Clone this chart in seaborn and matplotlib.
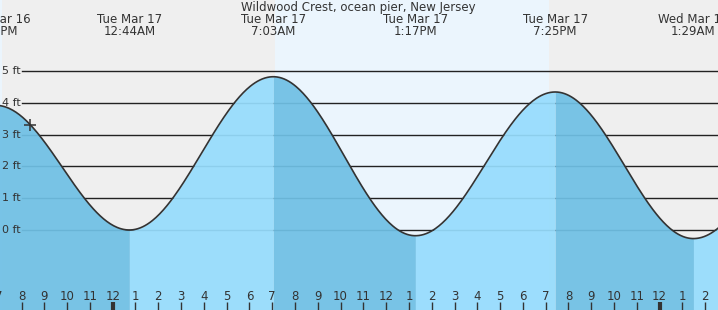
import numpy as np
import pandas as pd
import matplotlib
matplotlib.use('Agg')
import matplotlib.pyplot as plt
import seaborn as sns

# tide extremes, hours from midnight Tue Mar 17
tide_hours = [-5.13, 0.733, 7.05, 13.283, 19.417, 25.483, 31.6]
tide_heights = [3.92, 0.0, 4.82, -0.18, 4.34, -0.27, 4.1]
tide_dates = ['Mon Mar 16', 'Tue Mar 17', 'Tue Mar 17', 'Tue Mar 17', 'Tue Mar 17', 'Wed Mar 18']
tide_times = ['6:52PM', '12:44AM', '7:03AM', '1:17PM', '7:25PM', '1:29AM']

# daylight (hours from midnight Mar 17)
day_spans = [(-6.0, -4.86), (7.12, 19.14)]
now_hour, now_height = -3.63, 3.3

hour_ticks = list(range(-5, 27))
ft_ticks = [0, 1, 2, 3, 4, 5]

title = 'Wildwood Crest, ocean pier, New Jersey'

# curve between extremes (cosine shape, as tide tables do)
xs, ys = [], []
for i in range(len(tide_hours) - 1):
    t = np.linspace(tide_hours[i], tide_hours[i + 1], 120)
    f = (t - tide_hours[i]) / (tide_hours[i + 1] - tide_hours[i])
    h = tide_heights[i] + (tide_heights[i + 1] - tide_heights[i]) * (1 - np.cos(np.pi * f)) / 2
    xs.extend(t)
    ys.extend(h)
curve = pd.DataFrame({'hour': xs, 'height': ys})

x0, x1 = -4.945, 26.56
y0, y1 = -2.516, 7.233
px_x, px_y = 22.79, 31.8

fig = plt.figure(figsize=(7.18, 3.10), dpi=100)
fig.patch.set_facecolor('#efefef')
ax = fig.add_axes([0, 0, 1, 1])
ax.set_xlim(x0, x1)
ax.set_ylim(y0, y1)

for a, b in day_spans:
    ax.axvspan(a, b, color='#ebf5fd', lw=0, zorder=0)

# grid lines (drawn under the fill)
grid_start = x0 + 22 / px_x
for v in ft_ticks:
    ax.plot([grid_start, x1], [v, v], color='#222222', lw=1.0, zorder=1)
    ax.text(x0 + 2 / px_x, v, f'{v} ft', fontsize=8, color='#333333', va='center', ha='left', zorder=5)

# fill segments: falling tide darker
for i in range(len(tide_hours) - 1):
    seg = curve[(curve['hour'] >= tide_hours[i]) & (curve['hour'] <= tide_hours[i + 1])]
    col = '#6fc0e5' if tide_heights[i] > tide_heights[i + 1] else '#96dcfd'
    ax.fill_between(seg['hour'], y0, seg['height'], color=col, alpha=0.93, lw=0, zorder=2)

sns.lineplot(data=curve, x='hour', y='height', ax=ax, color='#333333', lw=1.2, zorder=3, sort=False)
ax.set_xlim(x0, x1)
ax.set_ylim(y0, y1)
ax.axis('off')
ax.plot([now_hour], [now_height], marker='+', color='#333333', ms=9, mew=1.1, zorder=4)

# top labels
ax.text(x0 + 358.5 / px_x, y1 - 8 / px_y, title, fontsize=8.5, color='#333333', ha='center', va='center')
for hr, d, t in zip(tide_hours, tide_dates, tide_times):
    ax.text(hr, y1 - 20 / px_y, d, fontsize=8.5, color='#333333', ha='center', va='center')
    ax.text(hr, y1 - 32 / px_y, t, fontsize=8.5, color='#333333', ha='center', va='center')

# hour labels and ticks
for h in hour_ticks:
    lab = (h - 1) % 12 + 1
    ax.text(h, y0 + 14 / px_y, str(lab), fontsize=8.5, color='#333333', ha='center', va='center', zorder=5)
    w = 3.0 if h % 24 == 0 else 1.0
    ax.plot([h, h], [y0, y0 + 8 / px_y], color='#333333', lw=w, solid_capstyle='butt', zorder=5)

plt.savefig('out.png', dpi=100, facecolor=fig.get_facecolor())
